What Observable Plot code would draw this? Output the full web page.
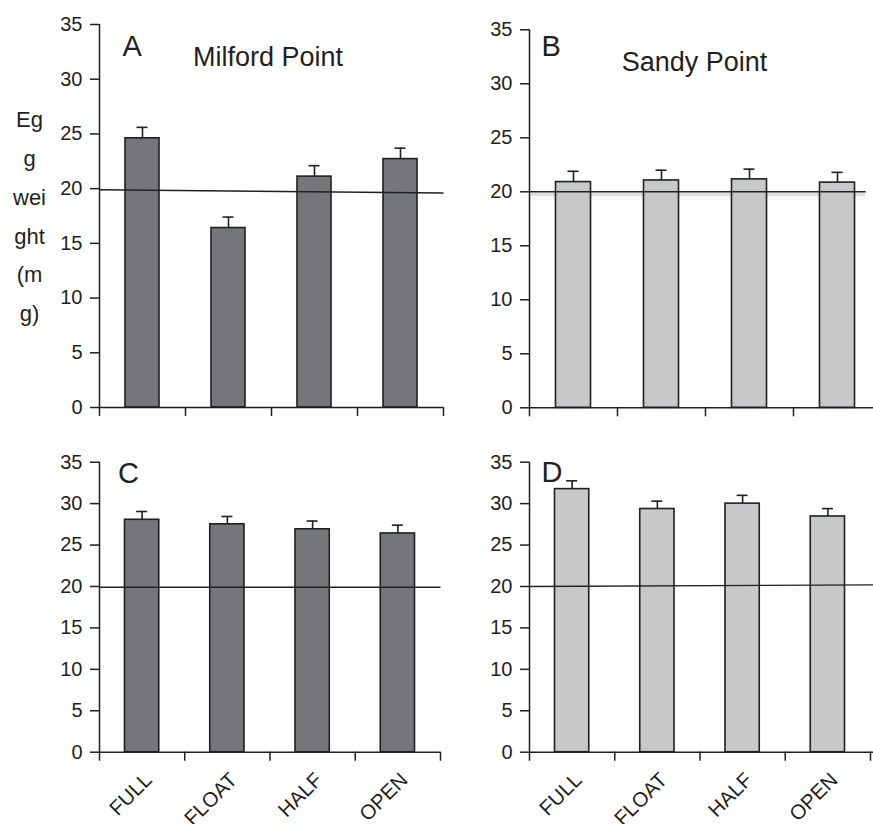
<!DOCTYPE html>
<html><head><meta charset="utf-8">
<script src="https://cdn.jsdelivr.net/npm/d3@7"></script>
<script src="https://cdn.jsdelivr.net/npm/@observablehq/plot@0.6"></script>
<style>
html,body{margin:0;padding:0;background:#fff;overflow:hidden;}
#chart{position:relative;width:873px;height:824px;font-family:"Liberation Sans",Arial,sans-serif;}
#chart svg{position:absolute;}
</style></head><body><div id="chart"></div>
<script>
// ---- data ----
const treatments = ["FULL", "FLOAT", "HALF", "OPEN"];
const yTicks = [0, 5, 10, 15, 20, 25, 30, 35];
const yLabel = "Eg\ng\nwei\nght\n(m\ng)";
const panelLetters = ["A", "B", "C", "D"];
const siteTitles = ["Milford Point", "Sandy Point", "", ""];
// mean egg weight (mg) and error (+1 SE)
const milfordA = [24.6, 16.4, 21.1, 22.7];
const milfordAErr = [1.0, 1.0, 1.0, 1.0];
const sandyB = [20.9, 21.05, 21.15, 20.85];
const sandyBErr = [1.0, 0.95, 0.95, 0.95];
const milfordC = [28.05, 27.5, 26.9, 26.4];
const milfordCErr = [1.0, 0.95, 1.0, 1.0];
const sandyD = [31.75, 29.35, 30.0, 28.45];
const sandyDErr = [1.0, 0.95, 1.0, 0.95];
// reference line (≈20 mg): value at left and right end, and right extent (in treatment units)
const refStart = [19.9, 20.0, 19.9, 20.0];
const refEnd = [19.6, 20.0, 19.9, 20.2];
const refExtent = [4, 3.82, 4, 4.03];

const ink = "#231f20";
const darkFill = "#75767a";
const lightFill = "#c7c8ca";
const font = '"Liberation Sans", Arial, sans-serif';

function panel(cfg) {
  const k = cfg.k;
  const data = treatments.map((t, i) => ({t, i, v: cfg.values[i], e: cfg.errors[i]}));
  const marks = [];
  if (cfg.shadow) {
    marks.push(Plot.ruleY([refStart[k]], {stroke: "#000", strokeOpacity: 0.10, strokeWidth: 3, dy: 2.5, insetRight: 8}));
    marks.push(Plot.ruleY([refStart[k]], {stroke: "#000", strokeOpacity: 0.04, strokeWidth: 6, dy: 5, insetRight: 8}));
  }
  marks.push(
    Plot.rectY(data, {x1: "i", x2: d => d.i + 1, y1: 0, y2: "v", insetLeft: cfg.inset, insetRight: cfg.inset,
      fill: cfg.fill, stroke: ink, strokeWidth: 1.6}),
    Plot.ruleX(data, {x: d => d.i + 0.5, y1: "v", y2: d => d.v + d.e, stroke: ink, strokeWidth: 1.6}),
    Plot.ruleY(data, {y: d => d.v + d.e, x1: d => d.i + 0.5, x2: d => d.i + 0.5, insetLeft: -5.5, insetRight: -5.5, stroke: ink, strokeWidth: 1.6}),
    Plot.link([k], {x1: () => 0, x2: () => refExtent[k], y1: () => refStart[k], y2: () => refEnd[k], stroke: ink, strokeWidth: 1.4}),
    Plot.ruleX([0], {stroke: ink, strokeWidth: 1.5}),
    Plot.ruleY([0], {stroke: ink, strokeWidth: 1.5}),
    Plot.axisY({ticks: yTicks, tickSize: 9, tickPadding: 8, fontSize: 20, label: null, strokeWidth: 1.5}),
    Plot.axisX({ticks: d3.range(treatments.length + 1), tickSize: 9, tickFormat: () => "", label: null, strokeWidth: 1.5}),
    Plot.text([panelLetters[k]], {frameAnchor: "top-left", textAnchor: "start", lineAnchor: "bottom",
      dx: cfg.letterDx, dy: cfg.letterDy, fontSize: 29, fill: ink})
  );
  if (siteTitles[k]) {
    marks.push(Plot.text([siteTitles[k]], {frameAnchor: "top-left", textAnchor: "middle", lineAnchor: "bottom",
      dx: cfg.titleDx, dy: cfg.titleDy, fontSize: 27, fill: ink}));
  }
  if (cfg.xLabels) {
    marks.push(Plot.text(treatments, {x: (d, i) => i + 0.5, frameAnchor: "bottom", rotate: -45, textAnchor: "end",
      lineAnchor: "bottom", dx: 11, dy: 29, fontSize: 20.5, fill: ink}));
  }
  if (cfg.yLabel) {
    marks.push(Plot.text([yLabel], {frameAnchor: "top-left", textAnchor: "middle", lineAnchor: "top",
      dx: -70, dy: 75.5, fontSize: 22, lineHeight: 1.76, fill: ink}));
  }
  const svg = Plot.plot({
    width: cfg.width, height: cfg.height,
    marginTop: cfg.mt, marginBottom: cfg.mb, marginLeft: 99, marginRight: cfg.mr,
    x: {domain: [0, treatments.length], range: cfg.xRange, axis: null, label: null},
    y: {domain: [0, 35], axis: null, label: null},
    style: {background: "transparent", color: ink, fontFamily: font},
    marks
  });
  svg.style.left = cfg.left + "px";
  svg.style.top = cfg.top + "px";
  svg.style.position = "absolute";
  svg.style.background = "transparent";
  document.getElementById("chart").appendChild(svg);
}

panel({k: 0, values: milfordA, errors: milfordAErr, fill: darkFill, left: 0, top: 0, width: 445, height: 420,
  mt: 24, mb: 13, mr: 2, xRange: [99, 443], inset: 26, letterDx: 23, letterDy: 31, titleDx: 168.5, titleDy: 41, yLabel: true});
panel({k: 1, values: sandyB, errors: sandyBErr, fill: lightFill, left: 430, top: 0, width: 443, height: 420,
  mt: 29.3, mb: 12.7, mr: 0, xRange: [99, 451], inset: 26.5, letterDx: 12, letterDy: 25.7, titleDx: 165, titleDy: 40.7, shadow: true});
panel({k: 2, values: milfordC, errors: milfordCErr, fill: darkFill, left: 0, top: 420, width: 445, height: 404,
  mt: 41.7, mb: 72.3, mr: 5, xRange: [99, 440], inset: 25.5, letterDx: 18.5, letterDy: 21, xLabels: true});
panel({k: 3, values: sandyD, errors: sandyDErr, fill: lightFill, left: 430, top: 420, width: 443, height: 404,
  mt: 41.7, mb: 72.3, mr: 0, xRange: [99, 440], inset: 25.5, letterDx: 12, letterDy: 20, xLabels: true});
</script>
</body></html>
